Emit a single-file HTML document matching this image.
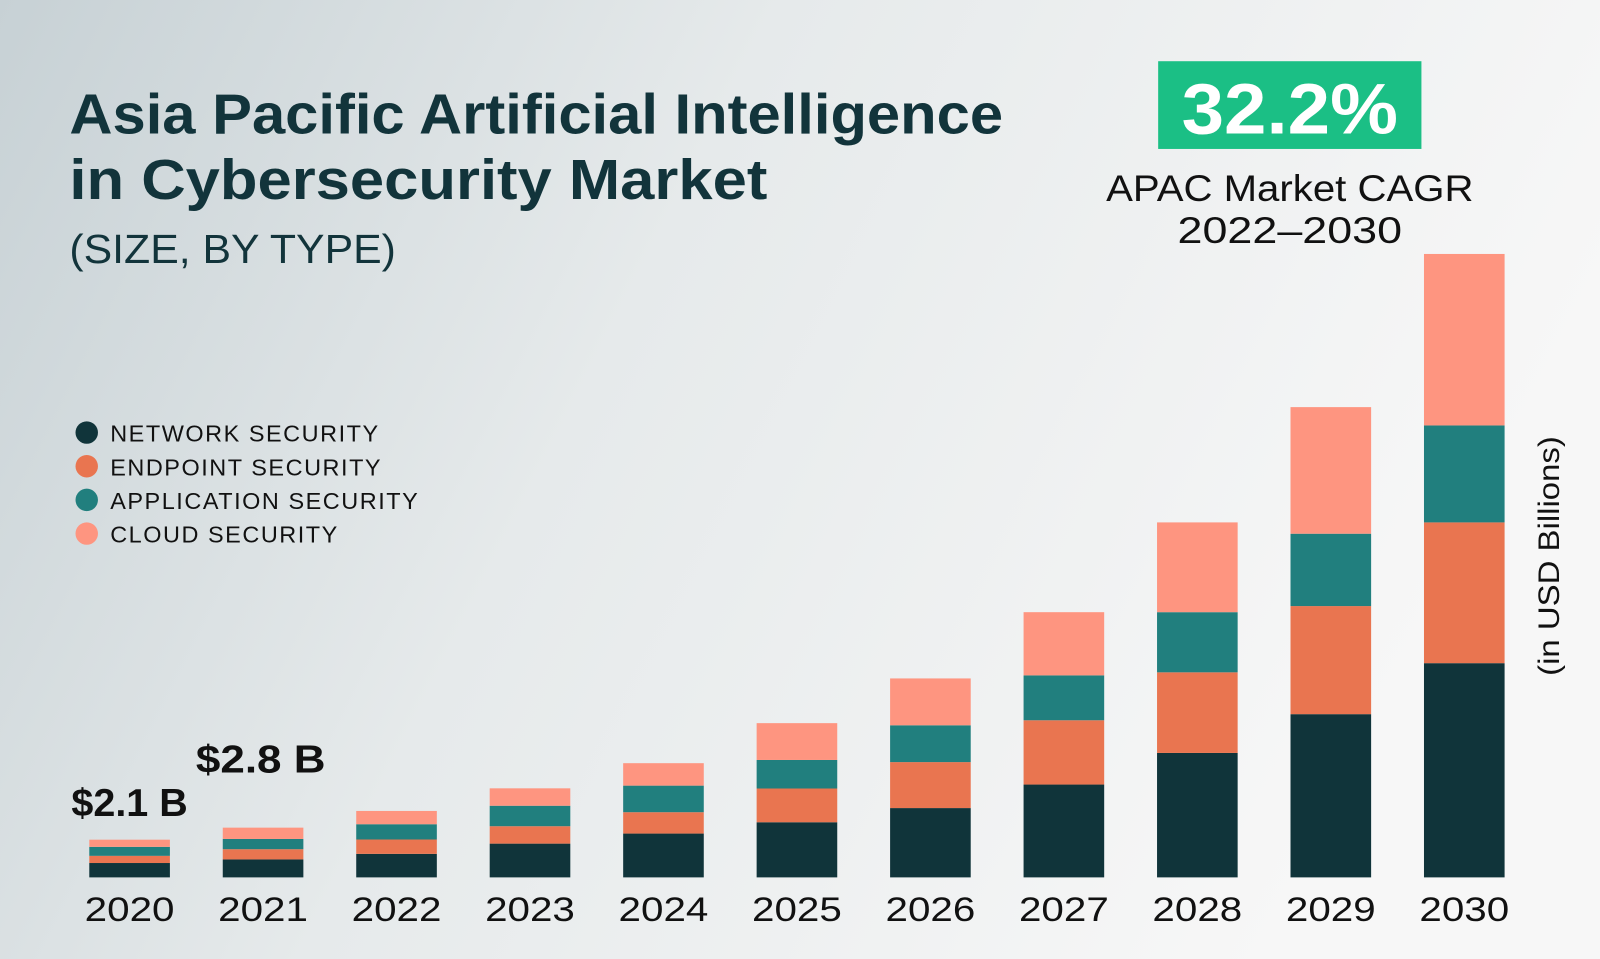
<!DOCTYPE html>
<html>
<head>
<meta charset="utf-8">
<style>
  html,body{margin:0;padding:0;width:1600px;height:959px;overflow:hidden;}
  svg{display:block;font-family:"Liberation Sans",sans-serif;}
</style>
</head>
<body>
<svg id="chart" width="1600" height="959" viewBox="0 0 1568 940" preserveAspectRatio="none">
  <defs>
    <linearGradient id="bg" x1="0" y1="0" x2="1" y2="0.3">
      <stop offset="0" stop-color="#c7d1d5"/>
      <stop offset="0.45" stop-color="#e6eaeb"/>
      <stop offset="1" stop-color="#f7f7f7"/>
    </linearGradient>
  </defs>
  <rect x="0" y="0" width="1568" height="940" fill="url(#bg)"/>

  <text x="68" y="131" font-size="55" font-weight="bold" fill="#12343b" textLength="915" lengthAdjust="spacingAndGlyphs">Asia Pacific Artificial Intelligence</text>
  <text x="68" y="195" font-size="55" font-weight="bold" fill="#12343b" textLength="684" lengthAdjust="spacingAndGlyphs">in Cybersecurity Market</text>
  <text x="68" y="258" font-size="40" fill="#12343b" textLength="320" lengthAdjust="spacingAndGlyphs">(SIZE, BY TYPE)</text>

  <rect x="1135" y="60" width="258" height="86" fill="#1bbf85"/>
  <text x="1264" y="131" font-size="70" font-weight="bold" fill="#ffffff" text-anchor="middle" textLength="212" lengthAdjust="spacingAndGlyphs">32.2%</text>
  <text x="1264" y="197" font-size="36" fill="#111" text-anchor="middle" textLength="360" lengthAdjust="spacingAndGlyphs">APAC Market CAGR</text>
  <text x="1264" y="238" font-size="36" fill="#111" text-anchor="middle" textLength="220" lengthAdjust="spacingAndGlyphs">2022–2030</text>

  <g id="legend"></g>
  <g id="bars"></g>
  <g id="xlabels"></g>

  <text x="70" y="800" font-size="38" font-weight="bold" fill="#111" textLength="114" lengthAdjust="spacingAndGlyphs">$2.1 B</text>
  <text x="192" y="757" font-size="38" font-weight="bold" fill="#111" textLength="127" lengthAdjust="spacingAndGlyphs">$2.8 B</text>

  <text transform="translate(1528,545) rotate(-90)" font-size="29" fill="#111" text-anchor="middle" textLength="235" lengthAdjust="spacingAndGlyphs">(in USD Billions)</text>
</svg>
<script>
const categories = ["2020","2021","2022","2023","2024","2025","2026","2027","2028","2029","2030"];
const seriesNames = ["NETWORK SECURITY","ENDPOINT SECURITY","APPLICATION SECURITY","CLOUD SECURITY"];
const network = [0.8,1.0,1.31,1.88,2.44,3.07,3.86,5.17,6.93,9.09,11.93];
const endpoint = [0.4,0.57,0.8,0.97,1.19,1.88,2.56,3.58,4.49,6.02,7.84];
const application = [0.5,0.57,0.85,1.14,1.48,1.59,2.05,2.5,3.35,4.03,5.4];
const cloud = [0.4,0.63,0.74,0.97,1.25,2.05,2.61,3.52,5.0,7.05,9.55];

const colors = ["#10343a","#e97550","#217f7e","#fe9580"];
const series = [network, endpoint, application, cloud];
const NS = "http://www.w3.org/2000/svg";
const baseY = 860, pxPerUnit = 17.6, barW = 79;
function yScale(v){ return baseY - v * pxPerUnit; }
function xCenter(i){ return 127 + i * 130.8; }

const bars = document.getElementById("bars");
const xl = document.getElementById("xlabels");
categories.forEach((c, i) => {
  let cum = 0;
  series.forEach((s, k) => {
    const v = s[i];
    const r = document.createElementNS(NS, "rect");
    r.setAttribute("x", xCenter(i) - barW / 2);
    r.setAttribute("y", yScale(cum + v));
    r.setAttribute("width", barW);
    r.setAttribute("height", yScale(cum) - yScale(cum + v));
    r.setAttribute("fill", colors[k]);
    
    
    bars.appendChild(r);
    cum += v;
  });
  const t = document.createElementNS(NS, "text");
  t.setAttribute("x", xCenter(i));
  t.setAttribute("y", 903);
  t.setAttribute("font-size", "34");
  t.setAttribute("fill", "#111");
  t.setAttribute("text-anchor", "middle");
  t.setAttribute("textLength", "88");
  t.setAttribute("lengthAdjust", "spacingAndGlyphs");
  t.textContent = c;
  
  
  xl.appendChild(t);
});

const lg = document.getElementById("legend");
seriesNames.forEach((n, k) => {
  const g = document.createElementNS(NS, "g");
  
  
  const c = document.createElementNS(NS, "circle");
  c.setAttribute("cx", 85); c.setAttribute("cy", 424 + k * 33); c.setAttribute("r", 11);
  c.setAttribute("fill", colors[k]);
  const t = document.createElementNS(NS, "text");
  t.setAttribute("x", 108); t.setAttribute("y", 433 + k * 33);
  t.setAttribute("font-size", "23"); t.setAttribute("fill", "#111");
  t.setAttribute("letter-spacing", "1.5");
  t.textContent = n;
  g.appendChild(c); g.appendChild(t);
  lg.appendChild(g);
});
</script>
</body>
</html>
